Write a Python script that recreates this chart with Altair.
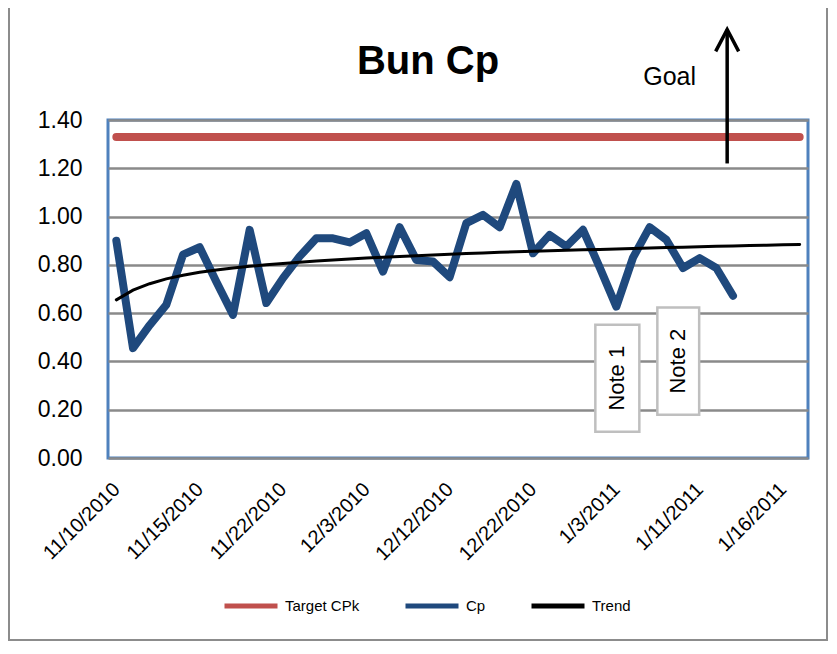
import altair as alt
import pandas as pd

# ---------------- data ----------------
x_labels = ["11/10/2010", "11/15/2010", "11/22/2010", "12/3/2010", "12/12/2010",
            "12/22/2010", "1/3/2011", "1/11/2011", "1/16/2011"]
label_step = 5

cp_values = [0.90, 0.455, 0.55, 0.635, 0.842, 0.873, 0.73, 0.593, 0.945, 0.642,
             0.745, 0.835, 0.91, 0.91, 0.893, 0.931, 0.772, 0.956, 0.82, 0.814,
             0.749, 0.973, 1.007, 0.956, 1.135, 0.848, 0.924, 0.876, 0.945, 0.79,
             0.627, 0.83, 0.956, 0.904, 0.787, 0.828, 0.787, 0.672]

trend_values = [0.655, 0.695, 0.722, 0.742, 0.757, 0.769, 0.779, 0.787, 0.794, 0.800,
                0.806, 0.811, 0.816, 0.820, 0.824, 0.828, 0.832, 0.835, 0.838, 0.841,
                0.844, 0.847, 0.849, 0.852, 0.854, 0.856, 0.858, 0.861, 0.863, 0.864,
                0.866, 0.868, 0.870, 0.872, 0.873, 0.875, 0.877, 0.878, 0.880, 0.881,
                0.883, 0.884]

target_cpk = 1.33

series_names = ["Target CPk", "Cp", "Trend"]
series_colors = ["#C0504D", "#1F497D", "#000000"]

title_text = "Bun Cp"
goal_text = "Goal"
goal_pos = {"i": 33.2, "v": 1.545}
arrow = {"i": 36.65, "v": 1.22, "v2": 1.775}
note_texts = ["Note 1", "Note 2"]
note_i = [28.74, 32.46]
note_i2 = [31.38, 34.97]
note_v = [0.552, 0.623]
note_v2 = [0.109, 0.179]

# ---------------- tables ----------------
n = len(trend_values)
df_target = pd.DataFrame({"i": list(range(n)), "v": [target_cpk] * n, "series": "Target CPk"})
df_trend = pd.DataFrame({"i": list(range(n)), "v": trend_values, "series": "Trend"})
df_cp = pd.DataFrame({"i": list(range(len(cp_values))), "v": cp_values, "series": "Cp"})
df_notes = pd.DataFrame({
    "t": note_texts, "i": note_i, "i2": note_i2, "v": note_v, "v2": note_v2,
    "ic": [(a + b) / 2 for a, b in zip(note_i, note_i2)],
    "vc": [(a + b) / 2 for a, b in zip(note_v, note_v2)],
})

label_expr = "[" + ",".join("'%s'" % s for s in x_labels) + "][round(datum.value/%d)]" % label_step

FONT = "Liberation Sans"

x_scale = alt.Scale(domain=[-0.5, n - 0.5], nice=False, zero=False)
y_scale = alt.Scale(domain=[0, 1.4], nice=False, zero=True)
x_axis = alt.Axis(values=list(range(0, n, label_step))[:len(x_labels)],
                  labelExpr=label_expr, labelAngle=-45, labelAlign="right",
                  labelBaseline="middle", labelPadding=28, labelFontSize=20,
                  labelFont=FONT, labelColor="#000000", grid=False,
                  ticks=False, domain=False, title=None, labelOverlap=False,
                  labelFlush=False)
y_axis = alt.Axis(values=[0, 0.2, 0.4, 0.6, 0.8, 1.0, 1.2, 1.4], format=".2f",
                  labelFontSize=23, labelFont=FONT, labelColor="#000000",
                  labelPadding=26, ticks=False, domain=False, grid=True,
                  gridColor="#8A8A8A", gridWidth=2.5, title=None)


def X(field):
    return alt.X(field + ":Q", scale=x_scale, axis=x_axis, title=None)


def Y(field):
    return alt.Y(field + ":Q", scale=y_scale, axis=y_axis, title=None)


color = alt.Color("series:N",
                  scale=alt.Scale(domain=series_names, range=series_colors),
                  legend=alt.Legend(title=None, orient="none", direction="horizontal",
                                    legendX=114, legendY=457, symbolType="stroke",
                                    symbolSize=2809, symbolStrokeWidth=5,
                                    labelFontSize=15, labelFont=FONT,
                                    labelColor="#000000", labelOffset=5,
                                    columnPadding=35, padding=0))

frame = alt.Chart(alt.Data(values=[{}])).mark_rect(
    fill=None, stroke="#8C8C8C", strokeWidth=2
).encode(x=alt.value(-99), x2=alt.value(719), y=alt.value(-130), y2=alt.value(520))

target_line = alt.Chart(df_target).mark_line(strokeWidth=8, strokeCap="round").encode(
    x=X("i"), y=Y("v"), color=color)
cp_line = alt.Chart(df_cp).mark_line(strokeWidth=8, strokeCap="round", strokeJoin="round").encode(
    x=X("i"), y=Y("v"), color=color)
trend_line = alt.Chart(df_trend).mark_line(strokeWidth=3, strokeCap="round").encode(
    x=X("i"), y=Y("v"), color=color)

note_boxes = alt.Chart(df_notes).mark_rect(fill="white", stroke="#BFBFBF", strokeWidth=2.5).encode(
    x=X("i"), x2="i2:Q", y=Y("v"), y2="v2:Q")
note_labels = alt.Chart(df_notes).mark_text(angle=270, fontSize=22, font=FONT, color="#000000").encode(
    x=X("ic"), y=Y("vc"), text="t:N")

arrow_line = alt.Chart(pd.DataFrame([arrow])).mark_rule(strokeWidth=3.5, color="#000000").encode(
    x=X("i"), y=Y("v"), y2="v2:Q")
arrow_head = alt.Chart(pd.DataFrame([arrow])).mark_point(
    shape="M-1,1.9L0,0L1,1.9", size=529, filled=False, stroke="#000000",
    strokeWidth=3.5, opacity=1, strokeJoin="miter").encode(
    x=X("i"), y=Y("v2"))

goal = alt.Chart(pd.DataFrame([dict(goal_pos, t=goal_text)])).mark_text(
    fontSize=25, font=FONT, color="#000000", baseline="alphabetic", align="center").encode(
    x=X("i"), y=Y("v"), text="t:N")

title = alt.Chart(pd.DataFrame({"t": [title_text]})).mark_text(
    fontSize=40, font=FONT, fontWeight="bold", color="#000000",
    baseline="alphabetic", align="center").encode(
    x=alt.value(320), y=alt.value(-46), text="t:N")

chart = alt.layer(
    frame, target_line, cp_line, trend_line, note_boxes, note_labels,
    arrow_line, arrow_head, goal, title
).properties(
    width=700, height=338,
    autosize=alt.AutoSizeParams(type="none"),
    padding={"left": 100, "top": 112, "right": 21, "bottom": 184},
    background="white",
).configure_view(
    stroke="#4F81BD", strokeWidth=3
)

chart.save("out.html", embed_options={"renderer": "svg", "actions": False})
